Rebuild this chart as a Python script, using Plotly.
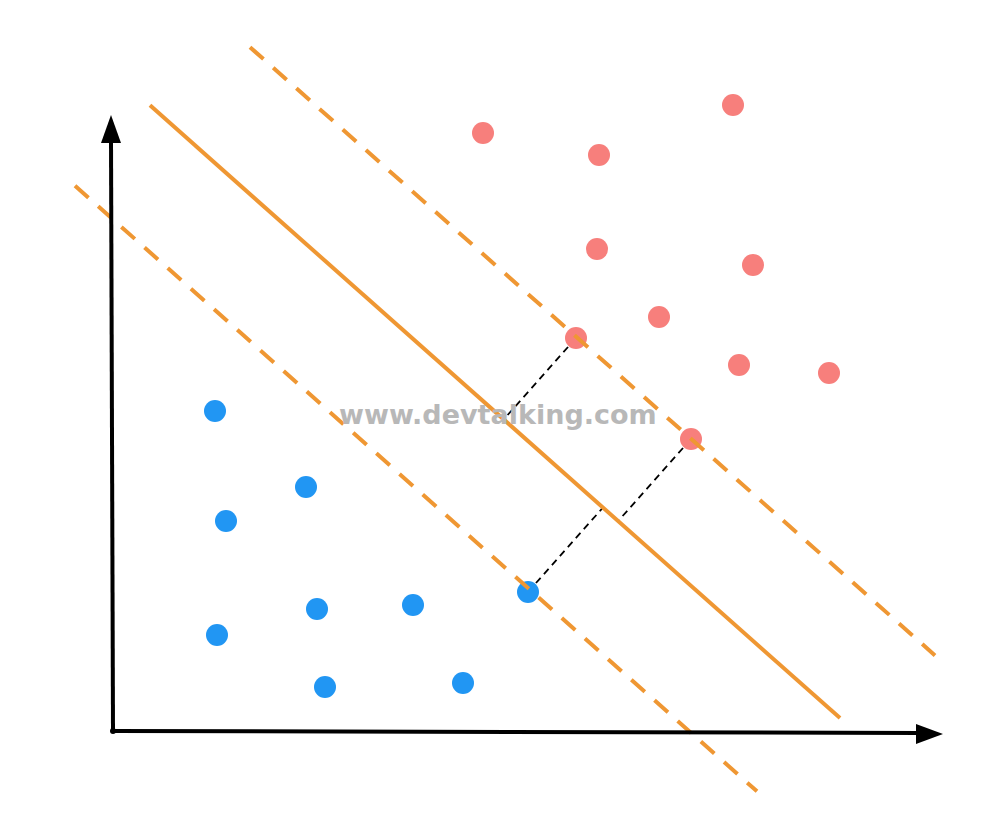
import plotly.graph_objects as go

# ---- data (units: pixels from the origin of the drawn axes, y up) ----
red_x = [370, 620, 486, 484, 640, 546, 463, 626, 716, 578]
red_y = [598, 626, 576, 482, 466, 414, 393, 366, 358, 292]
blue_x = [102, 193, 113, 204, 300, 415, 104, 212, 350]
blue_y = [320, 244, 210, 122, 126, 139, 96, 44, 48]

# separating hyperplane y = slope*x + intercept and the margin offset (vertical)
slope = -0.888
intercept = 658.5
margin = 147.0
# x extents of the three lines: [lower margin, hyperplane, upper margin]
line_x0 = [-38, 37, 137]
line_x1 = [644, 727, 822]

# support vectors: indices into red / blue lists
sv_red = [6, 9]
sv_blue = [5]

watermark = "www.devtalking.com"

# ---- geometry of the figure ----
W, H = 1006, 830
ORIGIN_PX = (113, 731)
x_range = [-ORIGIN_PX[0], W - ORIGIN_PX[0]]
y_range = [ORIGIN_PX[1] - H, ORIGIN_PX[1]]

ORANGE = "#EF9733"
RED = "#F77F7C"
BLUE = "#2196F3"

fig = go.Figure()


def foot(px, py):
    # perpendicular foot from point to line slope*x - y + intercept = 0
    a, b, c = slope, -1.0, intercept
    v = (a * px + b * py + c) / (a * a + b * b)
    return px - v * a, py - v * b


# black dashed distance lines (under points)
for i in sv_red:
    fx, fy = foot(red_x[i], red_y[i])
    fig.add_trace(go.Scatter(x=[red_x[i], fx], y=[red_y[i], fy], mode="lines",
                             line=dict(color="black", width=1.8, dash="7px,5px"),
                             hoverinfo="skip", showlegend=False))
for i in sv_blue:
    fx, fy = foot(blue_x[i], blue_y[i])
    fig.add_trace(go.Scatter(x=[blue_x[i], fx], y=[blue_y[i], fy], mode="lines",
                             line=dict(color="black", width=1.8, dash="7px,5px"),
                             hoverinfo="skip", showlegend=False))

# points
fig.add_trace(go.Scatter(x=red_x, y=red_y, mode="markers",
                         marker=dict(color=RED, size=22, line=dict(width=0)),
                         showlegend=False))
fig.add_trace(go.Scatter(x=blue_x, y=blue_y, mode="markers",
                         marker=dict(color=BLUE, size=22, line=dict(width=0)),
                         showlegend=False))

# hyperplane and margins
offsets = [-margin, 0.0, margin]
for k, off in enumerate(offsets):
    xs = [line_x0[k], line_x1[k]]
    ys = [slope * x + intercept + off for x in xs]
    fig.add_trace(go.Scatter(x=xs, y=ys, mode="lines",
                             line=dict(color=ORANGE, width=4,
                                       dash="solid" if off == 0 else "18px,13px"),
                             hoverinfo="skip", showlegend=False))

# axes with arrowheads
fig.add_trace(go.Scatter(x=[0, -2], y=[0, 592], mode="lines",
                         line=dict(color="black", width=4),
                         hoverinfo="skip", showlegend=False))
fig.add_trace(go.Scatter(x=[0, 806], y=[0, -2], mode="lines",
                         line=dict(color="black", width=4),
                         hoverinfo="skip", showlegend=False))
fig.add_trace(go.Scatter(x=[0], y=[0], mode="markers",
                         marker=dict(color="black", size=6, line=dict(width=0)),
                         hoverinfo="skip", showlegend=False))
fig.add_shape(type="path", path="M -12 588 L 8 588 L -2 616 Z",
              fillcolor="black", line=dict(width=0))
fig.add_shape(type="path", path="M 803 7 L 803 -13 L 830 -3 Z",
              fillcolor="black", line=dict(width=0))

# watermark
fig.add_annotation(x=497.5 - ORIGIN_PX[0], y=ORIGIN_PX[1] - 414, text=watermark,
                   showarrow=False, xanchor="center", yanchor="middle",
                   font=dict(family="DejaVu Sans", size=27, color="#B8B8B8",
                             weight="bold"))

fig.update_layout(
    width=W, height=H,
    margin=dict(l=0, r=0, t=0, b=0),
    paper_bgcolor="white", plot_bgcolor="white",
    xaxis=dict(range=x_range, visible=False, fixedrange=True),
    yaxis=dict(range=y_range, visible=False, fixedrange=True),
)

fig.write_html("out.html",
               config={"displayModeBar": False, "staticPlot": True},
               post_script="document.body.style.margin='0';"
                           "document.body.style.overflow='hidden';")
